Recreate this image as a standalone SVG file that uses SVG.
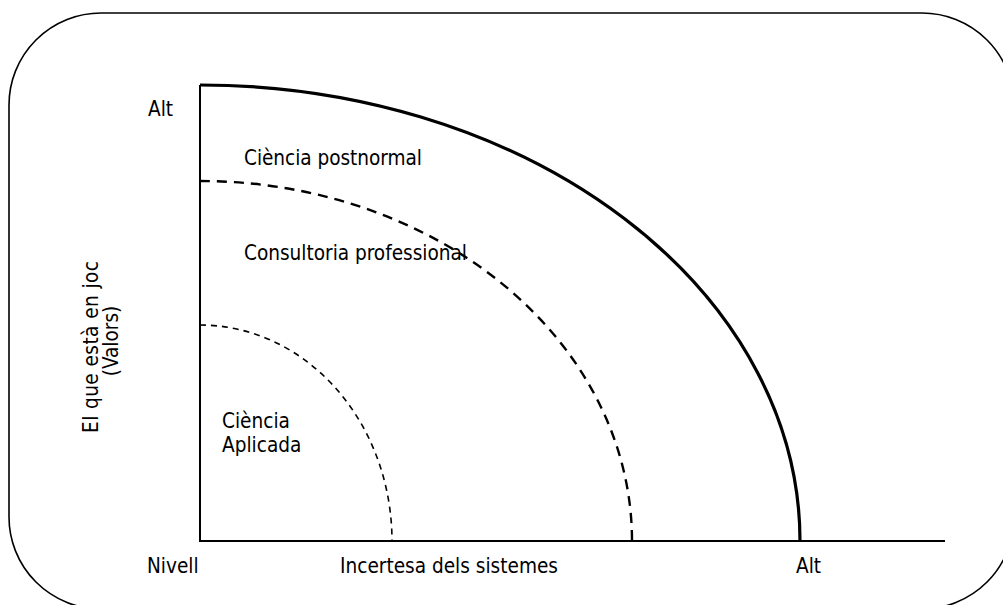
<svg xmlns="http://www.w3.org/2000/svg" width="1003" height="605" viewBox="0 0 1003 605">
<style>
text{font-family:"DejaVu Sans Condensed","DejaVu Sans",sans-serif;font-stretch:condensed;font-size:20.6px;fill:#000}
.ln{fill:none;stroke:#000}
</style>
<rect x="0" y="0" width="1003" height="605" fill="#fff"/>
<g id="frame"><rect class="ln" x="9" y="13" width="1005" height="596" rx="92" ry="92" stroke-width="1.6"/></g>
<g id="connectors">
<path class="ln" d="M200,85 V541 H945" stroke-width="2"/>
<path class="ln" d="M200,85 A600,456 0 0 1 800,541" stroke-width="3.2"/>
<path class="ln" d="M200,181 A432,360 0 0 1 632,541" stroke-width="2.4" stroke-dasharray="10,7"/>
<path class="ln" d="M200,325 A192,216 0 0 1 392,541" stroke-width="1.6" stroke-dasharray="6,5"/>
</g>
<g id="labels">
<text x="148" y="116">Alt</text>
<text x="244" y="165" textLength="178">Ciència postnormal</text>
<text x="244" y="260" textLength="223">Consultoria professional</text>
<text x="222" y="428">Ciència</text>
<text x="222" y="452">Aplicada</text>
<text x="147" y="573">Nivell</text>
<text x="340" y="573" textLength="218">Incertesa dels sistemes</text>
<text x="796" y="573">Alt</text>
<text transform="translate(98,347) rotate(-90)" text-anchor="middle" textLength="172">El que està en joc</text>
<text transform="translate(118,341) rotate(-90)" text-anchor="middle">(Valors)</text>
</g>
</svg>
